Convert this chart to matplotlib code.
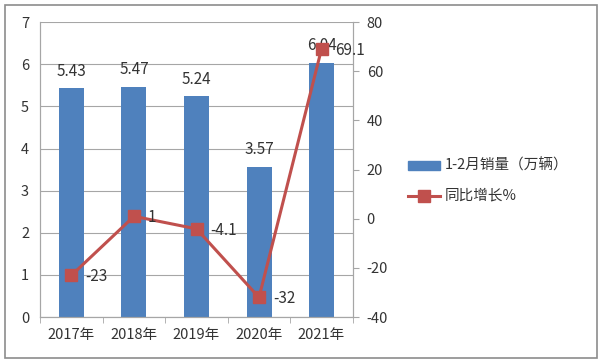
import numpy as np
import matplotlib.pyplot as plt
from matplotlib.patches import Rectangle

plt.rcParams['font.family'] = ['Noto Sans CJK SC', 'DejaVu Sans']
plt.rcParams['axes.unicode_minus'] = False

years = ['2017年', '2018年', '2019年', '2020年', '2021年']
sales = [5.43, 5.47, 5.24, 3.57, 6.04]
growth = [-23, 1, -4.1, -32, 69.1]
growth_labels = ['-23', '1', '-4.1', '-32', '69.1']

bar_color = '#4F81BD'
line_color = '#C0504D'
text_color = '#333333'
grid_color = '#A6A6A6'

fig = plt.figure(figsize=(6, 3.62), dpi=100)
ax = fig.add_axes([0.067, 0.124, 0.521, 0.815])
ax2 = ax.twinx()

x = np.arange(len(years))
ax.bar(x, sales, width=0.4, color=bar_color, zorder=2)
ax.set_xlim(-0.5, len(years) - 0.5)
ax.set_ylim(0, 7)
ax.set_yticks(range(0, 8))
ax.yaxis.grid(True, color=grid_color, linewidth=0.8, zorder=0)
ax.set_axisbelow(True)
ax.set_xticks(x)
ax.set_xticklabels(years)
ax.set_xticks(np.arange(-0.5, len(years)), minor=True)
ax.tick_params(axis='x', which='major', length=0, pad=8, labelsize=10.5, colors=text_color)
ax.tick_params(axis='x', which='minor', length=4, color=grid_color)
ax.tick_params(axis='y', length=0, pad=8, labelsize=10.5, colors=text_color)

for i, v in enumerate(sales):
    ax.annotate(f'{v:.2f}', (x[i], v), xytext=(0, 12), textcoords='offset points',
                ha='center', va='center', fontsize=11, color=text_color)

ax2.plot(x, growth, color=line_color, linewidth=2.2, marker='s', markersize=9,
         markerfacecolor=line_color, markeredgecolor=line_color, zorder=3)
ax2.set_ylim(-40, 80)
ax2.set_yticks(range(-40, 81, 20))
ax2.tick_params(axis='y', length=4, color=grid_color, pad=6, labelsize=10.5, colors=text_color)

for i, v in enumerate(growth):
    ax2.annotate(growth_labels[i], (x[i], v), xytext=(10, -1), textcoords='offset points',
                 ha='left', va='center', fontsize=11, color=text_color)

for a in (ax, ax2):
    a.spines['top'].set_visible(False)
    a.spines['left'].set_color(grid_color)
    a.spines['right'].set_color(grid_color)
    a.spines['bottom'].set_color(grid_color)

# legend drawn by hand to mimic the Excel look
fig.patches.append(Rectangle((408 / 600, 1 - 170 / 362), 32 / 600, 9 / 362,
                             transform=fig.transFigure, color=bar_color))
fig.text(445 / 600, 1 - 165 / 362, '1-2月销量（万辆）', fontsize=10.5, color=text_color,
         va='center', ha='left')
fig.lines.append(plt.Line2D([408 / 600, 440 / 600], [1 - 196 / 362, 1 - 196 / 362],
                            transform=fig.transFigure, color=line_color, linewidth=2.2))
fig.lines.append(plt.Line2D([424 / 600], [1 - 196 / 362], transform=fig.transFigure,
                            color=line_color, marker='s', markersize=9, linestyle='none'))
fig.text(445 / 600, 1 - 195 / 362, '同比增长%', fontsize=10.5, color=text_color,
         va='center', ha='left')

# outer frame
fig.patches.append(Rectangle((5 / 600, 4 / 362), 592 / 600, 353 / 362, transform=fig.transFigure,
                             fill=False, edgecolor='#8C8C8C', linewidth=1.2))

fig.savefig('out.png', dpi=100)
